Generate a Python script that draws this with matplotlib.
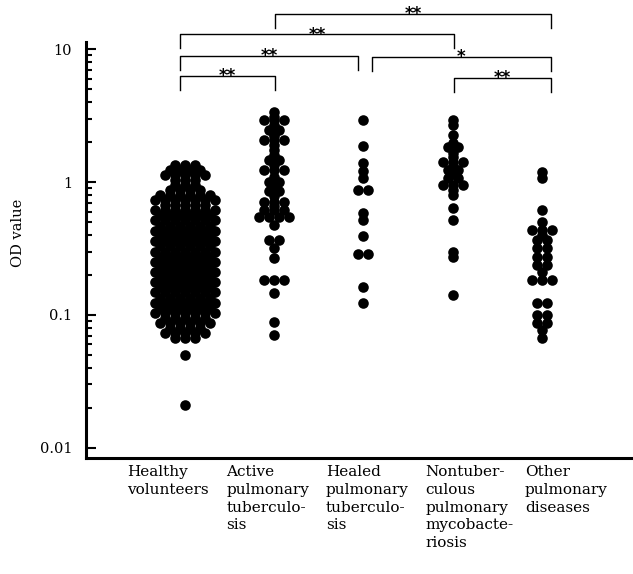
import matplotlib
matplotlib.use("Agg")
import matplotlib.pyplot as plt
import matplotlib.ticker as mticker
import numpy as np

plt.rcParams['font.family'] = ['DejaVu Serif']

categories = ["Healthy\nvolunteers",
              "Active\npulmonary\ntuberculo-\nsis",
              "Healed\npulmonary\ntuberculo-\nsis",
              "Nontuber-\nculous\npulmonary\nmycobacte-\nriosis",
              "Other\npulmonary\ndiseases"]

# healthy volunteers: too many dots to list one by one -> value levels and dot counts per row
healthy_levels = [1.34, 1.23, 1.13, 1.035, 0.95, 0.87, 0.80, 0.73, 0.67, 0.616, 0.565, 0.515,
                  0.47, 0.43, 0.395, 0.36, 0.33, 0.30, 0.275, 0.25, 0.23, 0.21, 0.193, 0.177,
                  0.162, 0.148, 0.135, 0.124, 0.113, 0.104, 0.095, 0.087, 0.08, 0.073, 0.067,
                  0.05, 0.021]
healthy_counts = [3, 4, 5, 3, 3, 4, 6, 7, 5, 7, 6, 7,
                  6, 7, 6, 7, 6, 7, 6, 7, 6, 7, 6, 7,
                  6, 7, 6, 7, 6, 7, 5, 6, 4, 5, 3,
                  1, 1]

active = [3.38, 3.1, 2.93, 2.93, 2.93, 2.7, 2.6, 2.46, 2.46, 2.3, 2.2, 2.07, 2.07, 2.07,
          1.9, 1.74, 1.6, 1.46, 1.46, 1.35, 1.23, 1.23, 1.23, 1.1, 1.0, 1.0, 0.92, 0.85,
          0.85, 0.78, 0.71, 0.71, 0.71, 0.66, 0.62, 0.62, 0.62, 0.55, 0.55, 0.55, 0.55,
          0.475, 0.367, 0.367, 0.32, 0.268, 0.184, 0.184, 0.184, 0.146, 0.089, 0.071]
healed = [2.93, 1.87, 1.39, 1.22, 1.08, 0.87, 0.87, 0.585, 0.52, 0.39, 0.288, 0.288,
          0.162, 0.123]
nontb = [2.93, 2.68, 2.25, 1.95, 1.84, 1.84, 1.65, 1.55, 1.42, 1.42, 1.42, 1.32, 1.23,
         1.23, 1.15, 1.07, 1.07, 0.95, 0.95, 0.95, 0.87, 0.8, 0.634, 0.518, 0.3, 0.275,
         0.141]
other = [1.19, 1.07, 0.616, 0.503, 0.436, 0.436, 0.436, 0.4, 0.367, 0.367, 0.317, 0.317,
         0.275, 0.275, 0.238, 0.238, 0.212, 0.183, 0.183, 0.183, 0.122, 0.122, 0.1, 0.1,
         0.087, 0.087, 0.077, 0.067]

# significance brackets: (group a, group b, height, label)
brackets = [(1, 4, 18.3, "**"),
            (0, 3, 12.9, "**"),
            (0, 2, 8.85, "**"),
            (2, 4, 8.75, "*"),
            (0, 1, 6.25, "**"),
            (3, 4, 6.05, "**")]

groups = [np.repeat(healthy_levels, healthy_counts), active, healed, nontb, other]

STEP = 0.112  # horizontal distance between dots of one row (data units)


def dot_x(values, center):
    vals = np.asarray(values, dtype=float)
    xs = np.empty_like(vals)
    for v in np.unique(vals):
        idx = np.where(vals == v)[0]
        n = len(idx)
        xs[idx] = center + (np.arange(n) - (n - 1) / 2) * STEP
    return xs


fig = plt.figure(figsize=(6.33, 5.74), dpi=100)
ax = fig.add_axes([86 / 633, 116 / 574, 546 / 633, 416 / 574])

for i, vals in enumerate(groups):
    ax.scatter(dot_x(vals, i), vals, s=58, color="black", linewidths=0, zorder=3)

ax.set_yscale("log")
ax.set_ylim(0.0084, 11.3)
ax.set_xlim(-1.109, 5.009)

ax.yaxis.set_major_locator(mticker.FixedLocator([0.01, 0.1, 1, 10]))
ax.yaxis.set_major_formatter(mticker.FixedFormatter(["0.01", "0.1", "1", "10"]))
ax.yaxis.set_minor_locator(mticker.FixedLocator([k * 10.0 ** e for e in (-2, -1, 0) for k in range(2, 10)]))
ax.yaxis.set_minor_formatter(mticker.NullFormatter())
ax.tick_params(axis="y", which="major", direction="in", length=7, width=1.5, labelsize=10.5, pad=10)
ax.tick_params(axis="y", which="minor", direction="in", length=4, width=1.5)
ax.set_xticks([])

for side in ("top", "right"):
    ax.spines[side].set_visible(False)
for side in ("left", "bottom"):
    ax.spines[side].set_linewidth(2.2)

ax.set_ylabel("OD value", fontsize=10.5)
ax.yaxis.set_label_coords(-0.125, 0.54)
ax.yaxis.label.set_va("center")

# category labels, left aligned under the axis
for i, lab in enumerate(categories):
    ax.text(-0.65 + 1.115 * i, -0.018, lab, transform=ax.get_xaxis_transform(),
            ha="left", va="top", fontsize=11, linespacing=1.32)

# bracket end points per group (Healed has a left and a right end)
left_end = [-0.056, 1.008, 2.095, 3.014, 4.101]
right_end = [-0.056, 1.008, 1.939, 3.014, 4.101]
for a, b, h, lab in brackets:
    x1, x2 = left_end[a], right_end[b]
    low = h * 0.785
    ax.plot([x1, x1, x2, x2], [low, h, h, low], color="black", lw=1.0, clip_on=False)
    ax.annotate(lab, ((x1 + x2) / 2, h), xytext=(0, -3.8), textcoords="offset points",
                ha="center", va="baseline", fontsize=12, fontweight="bold",
                family="DejaVu Sans", annotation_clip=False)

fig.savefig("out.png", dpi=100)
